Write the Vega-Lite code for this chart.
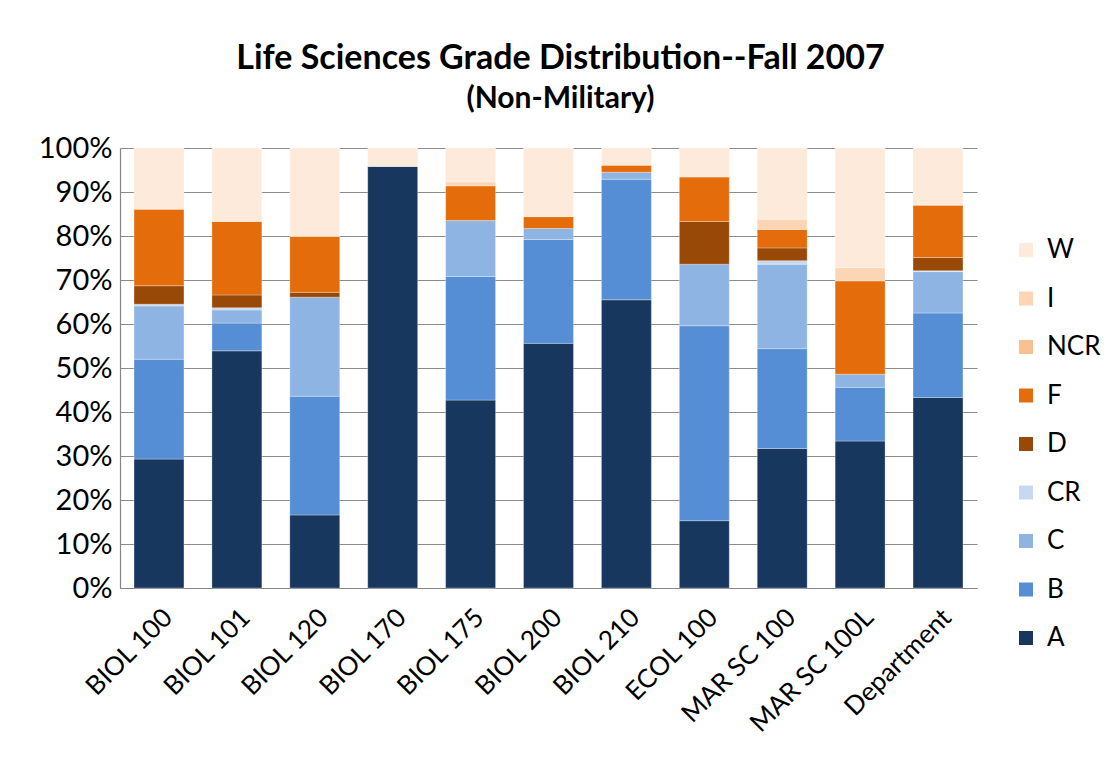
{
  "$schema": "https://vega.github.io/schema/vega-lite/v6.json",
  "autosize": "none",
  "width": 857,
  "height": 440,
  "padding": {"left": 120, "top": 148, "right": 134, "bottom": 178},
  "background": "#ffffff",
  "config": {
    "font": "Lato",
    "view": {"stroke": null}
  },
  "title": {
    "text": "Life Sciences Grade Distribution--Fall 2007",
    "subtitle": "(Non-Military)",
    "font": "Lato",
    "fontSize": 34,
    "fontWeight": "bold",
    "color": "#000000",
    "subtitleFont": "Lato",
    "subtitleFontSize": 30,
    "subtitleFontWeight": "bold",
    "subtitleColor": "#000000",
    "subtitlePadding": 8,
    "anchor": "middle",
    "dx": 12,
    "offset": 20
  },
  "data": {
    "values": [
      {"course": "BIOL 100", "grade": "A", "pct": 29.3},
      {"course": "BIOL 100", "grade": "B", "pct": 22.7},
      {"course": "BIOL 100", "grade": "C", "pct": 12.1},
      {"course": "BIOL 100", "grade": "CR", "pct": 0.4},
      {"course": "BIOL 100", "grade": "D", "pct": 4.2},
      {"course": "BIOL 100", "grade": "F", "pct": 17.4},
      {"course": "BIOL 100", "grade": "W", "pct": 13.9},
      {"course": "BIOL 101", "grade": "A", "pct": 53.9},
      {"course": "BIOL 101", "grade": "B", "pct": 6.3},
      {"course": "BIOL 101", "grade": "C", "pct": 3.0},
      {"course": "BIOL 101", "grade": "CR", "pct": 0.5},
      {"course": "BIOL 101", "grade": "D", "pct": 2.9},
      {"course": "BIOL 101", "grade": "F", "pct": 16.7},
      {"course": "BIOL 101", "grade": "W", "pct": 16.7},
      {"course": "BIOL 120", "grade": "A", "pct": 16.6},
      {"course": "BIOL 120", "grade": "B", "pct": 27.0},
      {"course": "BIOL 120", "grade": "C", "pct": 22.5},
      {"course": "BIOL 120", "grade": "D", "pct": 1.1},
      {"course": "BIOL 120", "grade": "F", "pct": 12.7},
      {"course": "BIOL 120", "grade": "W", "pct": 20.1},
      {"course": "BIOL 170", "grade": "A", "pct": 95.8},
      {"course": "BIOL 170", "grade": "W", "pct": 4.2},
      {"course": "BIOL 175", "grade": "A", "pct": 42.7},
      {"course": "BIOL 175", "grade": "B", "pct": 28.1},
      {"course": "BIOL 175", "grade": "C", "pct": 12.7},
      {"course": "BIOL 175", "grade": "F", "pct": 7.9},
      {"course": "BIOL 175", "grade": "I", "pct": 0.9},
      {"course": "BIOL 175", "grade": "W", "pct": 7.7},
      {"course": "BIOL 200", "grade": "A", "pct": 55.6},
      {"course": "BIOL 200", "grade": "B", "pct": 23.6},
      {"course": "BIOL 200", "grade": "C", "pct": 2.5},
      {"course": "BIOL 200", "grade": "F", "pct": 2.7},
      {"course": "BIOL 200", "grade": "W", "pct": 15.6},
      {"course": "BIOL 210", "grade": "A", "pct": 65.5},
      {"course": "BIOL 210", "grade": "B", "pct": 27.4},
      {"course": "BIOL 210", "grade": "C", "pct": 1.6},
      {"course": "BIOL 210", "grade": "F", "pct": 1.6},
      {"course": "BIOL 210", "grade": "W", "pct": 3.9},
      {"course": "ECOL 100", "grade": "A", "pct": 15.3},
      {"course": "ECOL 100", "grade": "B", "pct": 44.3},
      {"course": "ECOL 100", "grade": "C", "pct": 14.0},
      {"course": "ECOL 100", "grade": "D", "pct": 9.7},
      {"course": "ECOL 100", "grade": "F", "pct": 10.1},
      {"course": "ECOL 100", "grade": "W", "pct": 6.6},
      {"course": "MAR SC 100", "grade": "A", "pct": 31.7},
      {"course": "MAR SC 100", "grade": "B", "pct": 22.7},
      {"course": "MAR SC 100", "grade": "C", "pct": 19.2},
      {"course": "MAR SC 100", "grade": "CR", "pct": 0.8},
      {"course": "MAR SC 100", "grade": "D", "pct": 2.9},
      {"course": "MAR SC 100", "grade": "F", "pct": 4.2},
      {"course": "MAR SC 100", "grade": "I", "pct": 2.3},
      {"course": "MAR SC 100", "grade": "W", "pct": 16.2},
      {"course": "MAR SC 100L", "grade": "A", "pct": 33.4},
      {"course": "MAR SC 100L", "grade": "B", "pct": 12.2},
      {"course": "MAR SC 100L", "grade": "C", "pct": 3.0},
      {"course": "MAR SC 100L", "grade": "F", "pct": 21.2},
      {"course": "MAR SC 100L", "grade": "I", "pct": 3.0},
      {"course": "MAR SC 100L", "grade": "W", "pct": 27.2},
      {"course": "Department", "grade": "A", "pct": 43.3},
      {"course": "Department", "grade": "B", "pct": 19.2},
      {"course": "Department", "grade": "C", "pct": 9.4},
      {"course": "Department", "grade": "CR", "pct": 0.2},
      {"course": "Department", "grade": "D", "pct": 3.0},
      {"course": "Department", "grade": "F", "pct": 11.9},
      {"course": "Department", "grade": "I", "pct": 0.2},
      {"course": "Department", "grade": "W", "pct": 12.8}
    ]
  },
  "mark": {"type": "bar", "stroke": "#ffffff", "strokeWidth": 0.6, "strokeOpacity": 0.5},
  "encoding": {
    "x": {
      "field": "course",
      "type": "nominal",
      "sort": null,
      "scale": {"paddingInner": 0.359, "paddingOuter": 0.18},
      "axis": {
        "title": null,
        "labelAngle": -45,
        "labelFont": "Lato",
        "labelFontSize": 26,
        "labelColor": "#000000",
        "labelPadding": 16,
        "ticks": false,
        "domainColor": "#868686",
        "domainWidth": 1.2
      }
    },
    "y": {
      "field": "pct",
      "type": "quantitative",
      "stack": "normalize",
      "scale": {"domain": [0, 1]},
      "axis": {
        "title": null,
        "format": ".0%",
        "values": [0, 0.1, 0.2, 0.3, 0.4, 0.5, 0.6, 0.7, 0.8, 0.9, 1],
        "labelFont": "Lato",
        "labelFontSize": 29,
        "labelColor": "#000000",
        "labelPadding": 8,
        "ticks": false,
        "grid": true,
        "gridColor": "#8c8c8c",
        "gridWidth": 1.2,
        "domainColor": "#868686",
        "domainWidth": 1.2
      }
    },
    "order": {"field": "grade", "sort": "ascending"},
    "color": {
      "field": "grade",
      "type": "nominal",
      "scale": {
        "domain": ["W", "I", "NCR", "F", "D", "CR", "C", "B", "A"],
        "range": ["#FDEADA", "#FCD5B5", "#FAC090", "#E46C0A", "#984807", "#C6D9F1", "#8EB4E3", "#558ED5", "#17375E"]
      },
      "legend": {
        "title": null,
        "orient": "none",
        "legendX": 893,
        "legendY": 89,
        "padding": 0,
        "symbolType": "square",
        "symbolSize": 196,
        "symbolStrokeWidth": 0,
        "labelFont": "Lato",
        "labelFontSize": 26,
        "labelColor": "#000000",
        "labelOffset": 8,
        "rowPadding": 22.5
      }
    }
  }
}
